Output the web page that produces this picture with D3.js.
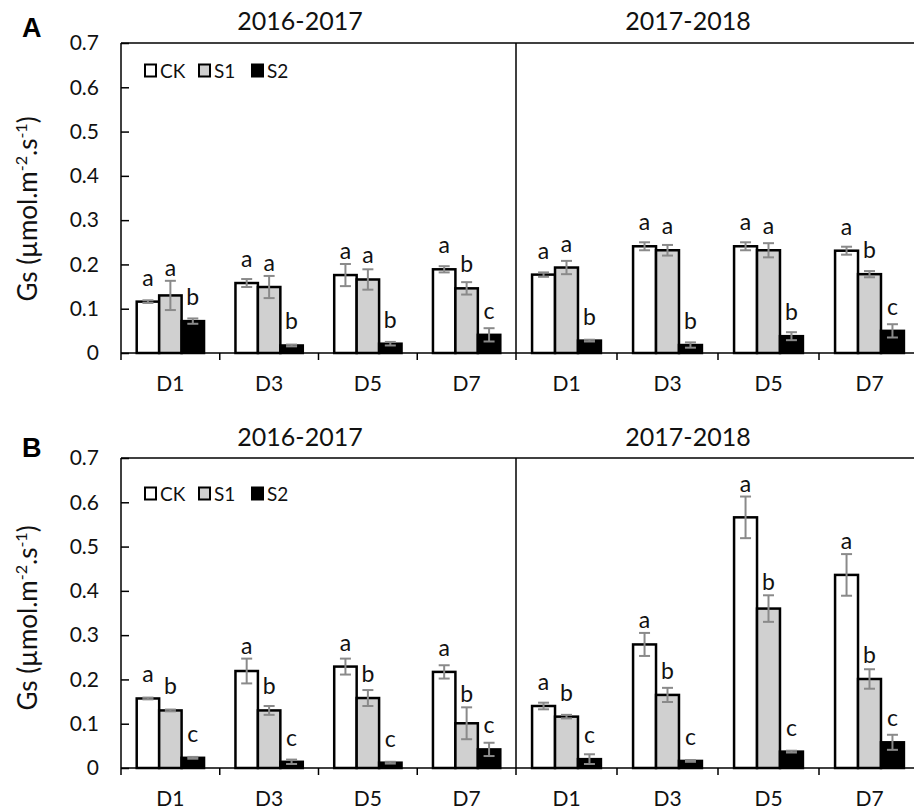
<!DOCTYPE html>
<html>
<head>
<meta charset="utf-8">
<script src="https://cdn.jsdelivr.net/npm/d3@7"></script>
<style>
  html, body { margin: 0; padding: 0; background: #fff; }
  svg { display: block; font-family: Lato, "Open Sans", sans-serif; }
</style>
</head>
<body>
<script>
// Stomatal conductance (Gs) by day after treatment, two seasons, two experiments
const days = ["D1", "D3", "D5", "D7"];
const treatments = ["CK", "S1", "S2"];
const seasons = ["2016-2017", "2017-2018"];
const yTickValues = [0, 0.1, 0.2, 0.3, 0.4, 0.5, 0.6, 0.7];

// Panel A, 2016-2017: rows CK, S1, S2; columns D1, D3, D5, D7
const meanA1 = [
  [0.116, 0.158, 0.176, 0.189],
  [0.130, 0.149, 0.166, 0.146],
  [0.072, 0.017, 0.021, 0.041]
];
const semA1 = [
  [0.003, 0.009, 0.025, 0.007],
  [0.033, 0.025, 0.023, 0.014],
  [0.006, 0.002, 0.004, 0.015]
];
const lettersA1 = [
  ["a", "a", "a", "a"],
  ["a", "a", "a", "b"],
  ["b", "b", "b", "c"]
];

// Panel A, 2017-2018
const meanA2 = [
  [0.177, 0.241, 0.241, 0.231],
  [0.193, 0.232, 0.232, 0.178],
  [0.028, 0.018, 0.038, 0.050]
];
const semA2 = [
  [0.005, 0.009, 0.009, 0.009],
  [0.015, 0.012, 0.016, 0.007],
  [0.002, 0.006, 0.009, 0.015]
];
const lettersA2 = [
  ["a", "a", "a", "a"],
  ["a", "a", "a", "b"],
  ["b", "b", "b", "c"]
];

// Panel B, 2016-2017
const meanB1 = [
  [0.157, 0.219, 0.229, 0.217],
  [0.130, 0.130, 0.158, 0.101],
  [0.023, 0.014, 0.012, 0.042]
];
const semB1 = [
  [0.002, 0.028, 0.018, 0.015],
  [0.002, 0.010, 0.018, 0.036],
  [0.002, 0.005, 0.002, 0.015]
];
const lettersB1 = [
  ["a", "a", "a", "a"],
  ["b", "b", "b", "b"],
  ["c", "c", "c", "c"]
];

// Panel B, 2017-2018
const meanB2 = [
  [0.140, 0.279, 0.566, 0.436],
  [0.116, 0.165, 0.360, 0.201],
  [0.020, 0.016, 0.037, 0.058]
];
const semB2 = [
  [0.0075, 0.026, 0.047, 0.047],
  [0.004, 0.016, 0.030, 0.022],
  [0.011, 0.002, 0.002, 0.017]
];
const lettersB2 = [
  ["a", "a", "a", "a"],
  ["b", "b", "b", "b"],
  ["c", "c", "c", "c"]
];

const fills = { CK: "#ffffff", S1: "#d0d0d0", S2: "#000000" };
const textColor = "#111111";
const errColor = "#8a8a8a";

const svg = d3.select("body").append("svg")
  .attr("width", 914).attr("height", 810);

const plotLeft = 121, divider = 516, plotRight = 920, plotHeight = 310;

const panels = [
  { tag: "A", top: 43, legendY: 70.5, tagY: 37,
    titleY: 30, ylabelY: 209,
    subs: [
      { mean: meanA1, sem: semA1, letters: lettersA1 },
      { mean: meanA2, sem: semA2, letters: lettersA2 }
    ] },
  { tag: "B", top: 458, legendY: 493.5, tagY: 457,
    titleY: 446, ylabelY: 618,
    subs: [
      { mean: meanB1, sem: semB1, letters: lettersB1 },
      { mean: meanB2, sem: semB2, letters: lettersB2 }
    ] }
];

const titleX = [300, 688];

panels.forEach(p => {
  const g = svg.append("g");
  const y = d3.scaleLinear().domain([0, 0.7]).range([p.top + plotHeight, p.top]);
  const base = y(0);

  // panel tag
  g.append("text")
    .attr("x", 22).attr("y", p.tagY)
    .attr("font-family", "Liberation Sans, Arial, sans-serif")
    .attr("font-weight", "bold").attr("font-size", 27)
    .attr("fill", "#000").text(p.tag);

  // y axis with inward ticks
  const yAxis = d3.axisLeft(y).tickValues(yTickValues)
    .tickFormat(d => d === 0 ? "0" : d3.format(".1f")(d))
    .tickSizeInner(-8).tickSizeOuter(0).tickPadding(22);
  const ya = g.append("g").attr("transform", `translate(${plotLeft},0)`).call(yAxis);
  ya.select(".domain").remove();
  ya.selectAll(".tick line").attr("stroke", "#000").attr("stroke-width", 1.5);
  ya.selectAll(".tick text").attr("font-size", 21).attr("fill", textColor)
    .attr("font-family", "Lato, sans-serif");

  // y label
  const yl = g.append("text")
    .attr("transform", `translate(37,${p.ylabelY}) rotate(-90)`)
    .attr("text-anchor", "middle")
    .attr("font-size", 26).attr("fill", textColor);
  yl.append("tspan").text("Gs (µmol.m");
  yl.append("tspan").attr("dy", -10).attr("font-size", 16).text("-2");
  yl.append("tspan").attr("dy", 10).text(".s");
  yl.append("tspan").attr("dy", -10).attr("font-size", 16).text("-1");
  yl.append("tspan").attr("dy", 10).text(")");

  p.subs.forEach((s, si) => {
    const range = si === 0 ? [plotLeft, divider] : [divider, plotRight];
    const xDay = d3.scaleBand().domain(days).range(range);
    const xTr = d3.scaleBand().domain(treatments)
      .range([0, xDay.bandwidth()]).paddingInner(0).paddingOuter(0.7);

    // season title
    g.append("text")
      .attr("x", titleX[si]).attr("y", p.titleY)
      .attr("text-anchor", "middle").attr("font-size", 25)
      .attr("fill", textColor).text(seasons[si]);

    const rows = [];
    treatments.forEach((t, ti) => {
      days.forEach((d, di) => {
        rows.push({ t, d, v: s.mean[ti][di], e: s.sem[ti][di], l: s.letters[ti][di] });
      });
    });

    const cx = r => xDay(r.d) + xTr(r.t) + xTr.bandwidth() / 2;

    g.selectAll(null).data(rows).enter().append("rect")
      .attr("x", r => xDay(r.d) + xTr(r.t))
      .attr("y", r => y(r.v))
      .attr("width", xTr.bandwidth())
      .attr("height", r => base - y(r.v))
      .attr("fill", r => fills[r.t])
      .attr("stroke", "#000").attr("stroke-width", 2.5);

    const eg = g.selectAll(null).data(rows).enter().append("g")
      .attr("stroke", errColor).attr("stroke-width", 2);
    eg.append("line")
      .attr("x1", cx).attr("x2", cx)
      .attr("y1", r => y(r.v - r.e)).attr("y2", r => y(r.v + r.e));
    eg.append("line")
      .attr("x1", r => cx(r) - 5.5).attr("x2", r => cx(r) + 5.5)
      .attr("y1", r => y(r.v + r.e)).attr("y2", r => y(r.v + r.e));
    eg.append("line")
      .attr("x1", r => cx(r) - 5.5).attr("x2", r => cx(r) + 5.5)
      .attr("y1", r => y(r.v - r.e)).attr("y2", r => y(r.v - r.e));

    g.selectAll(null).data(rows).enter().append("text")
      .attr("x", cx)
      .attr("y", r => Math.min(y(r.v + r.e) - 5, y(r.v) - 16))
      .attr("text-anchor", "middle").attr("font-size", 23)
      .attr("fill", textColor).text(r => r.l);

    // x axis: labels centred on days, ticks at day boundaries
    const xAxis = d3.axisBottom(xDay).tickSize(0).tickPadding(23);
    const xa = g.append("g").attr("transform", `translate(0,${base})`).call(xAxis);
    xa.select(".domain").remove();
    xa.selectAll(".tick text").attr("font-size", 21).attr("fill", textColor)
      .attr("font-family", "Lato, sans-serif");
    g.selectAll(null).data(days.slice(1)).enter().append("line")
      .attr("x1", d => xDay(d)).attr("x2", d => xDay(d))
      .attr("y1", base).attr("y2", base + 7)
      .attr("stroke", "#000").attr("stroke-width", 1.5);
  });

  // frame: top edge, left edge, season divider, baseline
  g.append("line").attr("x1", plotLeft).attr("x2", 914)
    .attr("y1", p.top).attr("y2", p.top)
    .attr("stroke", "#000").attr("stroke-width", 1.5);
  g.append("line").attr("x1", plotLeft).attr("x2", plotLeft)
    .attr("y1", p.top).attr("y2", base + 7)
    .attr("stroke", "#000").attr("stroke-width", 1.5);
  g.append("line").attr("x1", divider).attr("x2", divider)
    .attr("y1", p.top).attr("y2", base + 7)
    .attr("stroke", "#000").attr("stroke-width", 1.5);
  g.append("line").attr("x1", plotLeft).attr("x2", 914)
    .attr("y1", base).attr("y2", base)
    .attr("stroke", "#000").attr("stroke-width", 1.5);

  // legend
  const legX = [145, 199, 252];
  treatments.forEach((t, i) => {
    g.append("rect")
      .attr("x", legX[i]).attr("y", p.legendY - 6)
      .attr("width", 11).attr("height", 12)
      .attr("fill", fills[t]).attr("stroke", "#000").attr("stroke-width", 2);
    g.append("text")
      .attr("x", legX[i] + 15).attr("y", p.legendY + 7)
      .attr("font-size", 19).attr("fill", textColor).text(t);
  });
});
</script>
</body>
</html>
